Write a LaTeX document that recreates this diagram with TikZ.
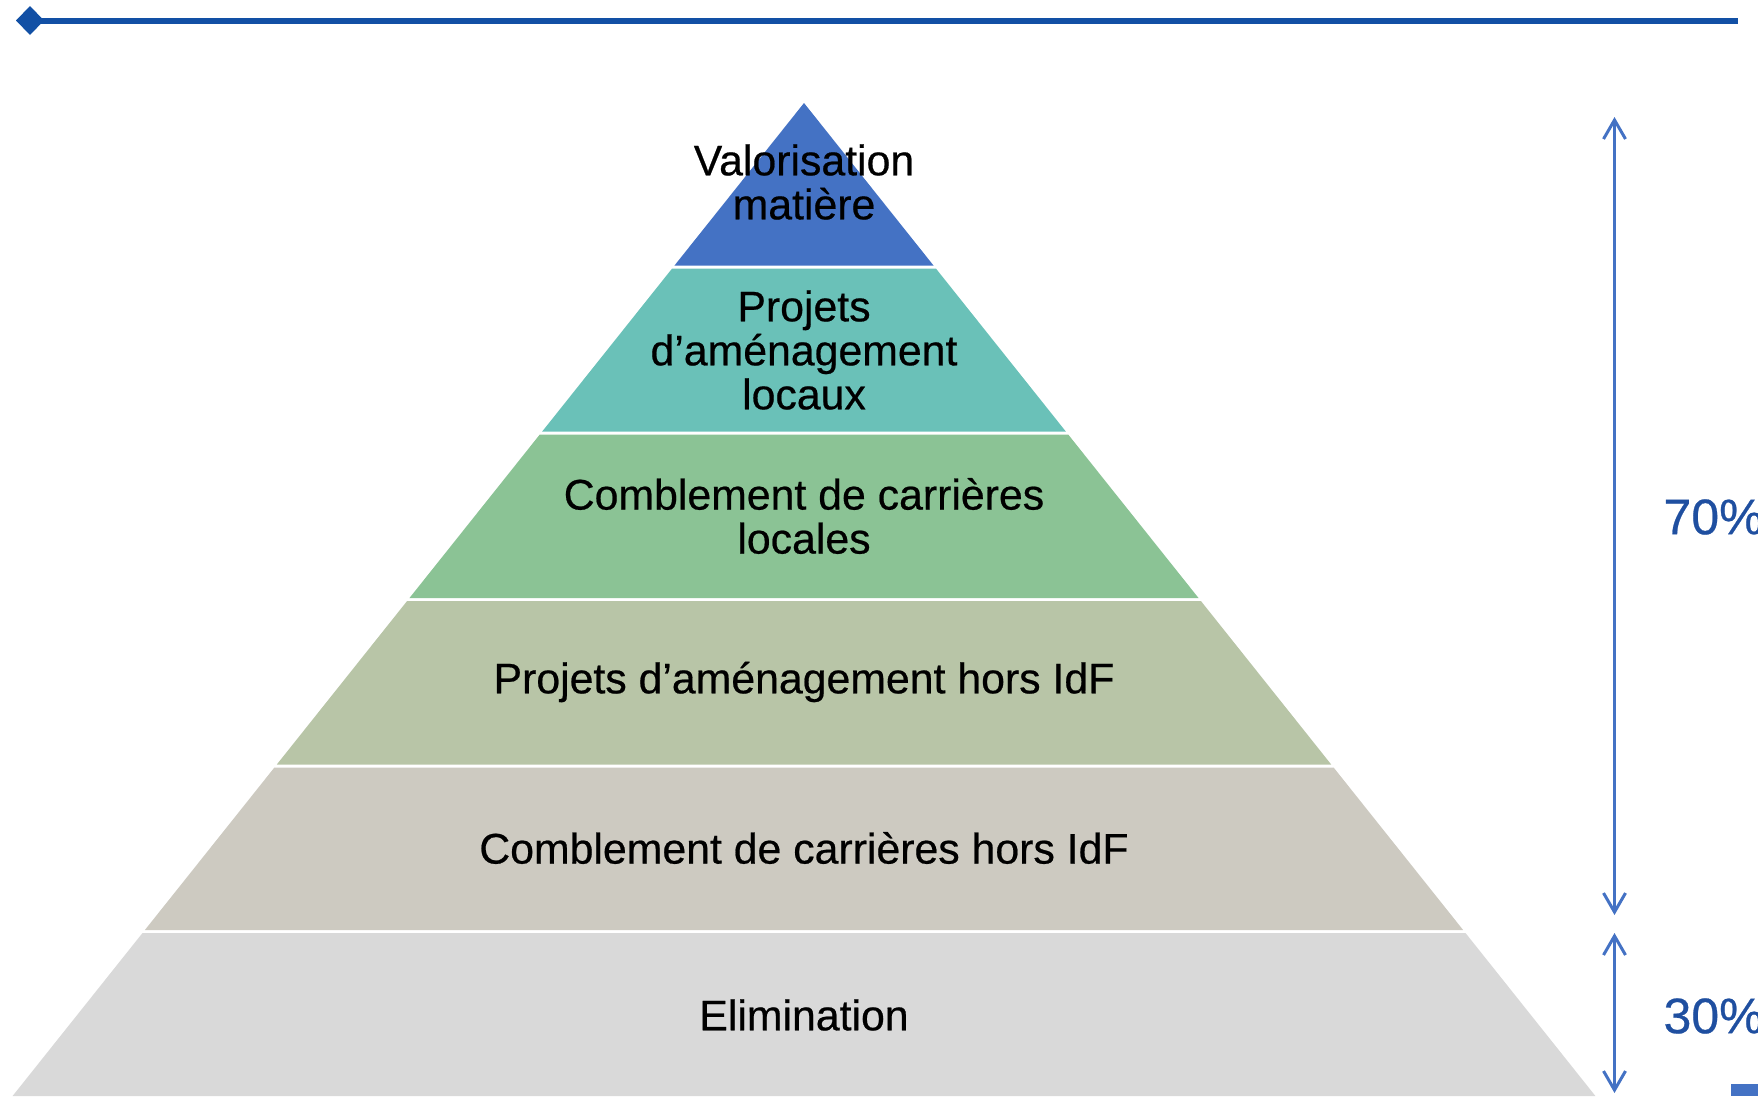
\documentclass[tikz,border=0pt]{standalone}
\usepackage{fontspec}
\setmainfont{Liberation Sans}
\newfontfamily\layerfont[FakeBold=0.5]{Liberation Sans}
\usepackage{xcolor}
\usepackage{tikz}
\usetikzlibrary{arrows.meta}
\definecolor{pyrA}{HTML}{4472C4}
\definecolor{pyrB}{HTML}{6AC1B8}
\definecolor{pyrC}{HTML}{8BC395}
\definecolor{pyrD}{HTML}{B8C5A7}
\definecolor{pyrE}{HTML}{CDCAC1}
\definecolor{pyrF}{HTML}{D9D9D9}
\definecolor{rulecol}{HTML}{1250A5}
\definecolor{arrowcol}{HTML}{4472C4}
\definecolor{pctcol}{HTML}{1F4FA0}
\tikzset{
  layertext/.style = {align=center, text=black,
                      font=\layerfont\fontsize{42.8}{44}\selectfont},
  pctlabel/.style  = {anchor=west, text=pctcol,
                      font=\layerfont\fontsize{50}{52}\selectfont},
  pctarrow/.style  = {{Straight Barb[length=19pt,width=22pt]}-{Straight Barb[length=19pt,width=22pt]},
                      line width=3pt, draw=arrowcol},
  topline/.style   = {{Diamond[length=28pt,width=29pt]}-, line width=6pt, draw=rulecol}
}

\begin{document}
\begin{tikzpicture}[x=1pt, y=-1pt]
\useasboundingbox (0,0) rectangle (1758,1096);

% header rule
\coordinate (rulestart) at (16,20.5);
\coordinate (ruleend)   at (1738,20.5);
\draw[topline] (rulestart) -- (ruleend);

% pyramid layers (apex at 804,103)
\foreach \ytop/\ybot/\col in {103/265.5/pyrA, 268.5/431.5/pyrB, 434.5/598/pyrC,
                              601/764.5/pyrD, 767.5/930/pyrE, 933/1096/pyrF}
  \fill[\col] ({804-0.797*(\ytop-103)},\ytop) -- ({804+0.797*(\ytop-103)},\ytop)
      -- ({804+0.797*(\ybot-103)},\ybot) -- ({804-0.797*(\ybot-103)},\ybot) -- cycle;

\node[layertext] (valo)     at (804,182)  {Valorisation\\matière};
\node[layertext] (projloc)  at (804,350)  {Projets\\d’aménagement\\locaux};
\node[layertext] (combloc)  at (804,516)  {Comblement de carrières\\locales};
\node[layertext] (projhors) at (804,682)  {Projets d’aménagement hors IdF};
\node[layertext] (combhors) at (804,848)  {Comblement de carrières hors IdF};
\node[layertext] (elim)     at (804,1015) {Elimination};

% shares on the right
\coordinate (upper70) at (1614.5,117);
\coordinate (lower70) at (1614.5,915);
\coordinate (upper30) at (1614.5,933);
\coordinate (lower30) at (1614.5,1093);
\draw[pctarrow] (upper70) -- (lower70);
\draw[pctarrow] (upper30) -- (lower30);

\node[pctlabel] (pct70) at (1660,517)  {70\%};
\node[pctlabel] (pct30) at (1660,1016) {30\%};

\fill[pyrA] (1731,1084) rectangle (1758,1096);
\end{tikzpicture}
\end{document}
